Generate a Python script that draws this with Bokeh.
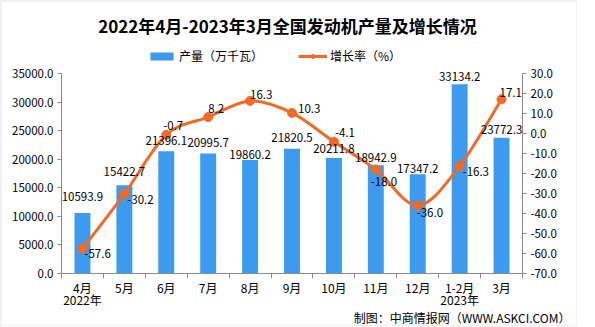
from bokeh.plotting import figure
from bokeh.models import (Range1d, LinearAxis, FixedTicker, NumeralTickFormatter, Label,
                          Legend, LegendItem, ColumnDataSource, BoxAnnotation)
from bokeh.embed import file_html
from bokeh.resources import INLINE
from bokeh.core.properties import value

# ---------------- data ----------------
months = ["4月", "5月", "6月", "7月", "8月", "9月", "10月", "11月", "12月", "1-2月", "3月"]
year_marks = {0: "2022年", 9: "2023年"}
output = [10593.9, 15422.7, 21396.1, 20995.7, 19860.2, 21820.5, 20211.8, 18942.9, 17347.2, 33134.2, 23772.3]
growth = [-57.6, -30.2, -0.7, 8.2, 16.3, 10.3, -4.1, -18.0, -36.0, -16.3, 17.1]
left_ticks = [0, 5000, 10000, 15000, 20000, 25000, 30000, 35000]
right_ticks = [-70, -60, -50, -40, -30, -20, -10, 0, 10, 20, 30]

# ---------------- style / layout (pixels) ----------------
W, H = 577, 326                        # canvas = frame; outer grey border drawn on its edge
AX_L, AX_R, AX_T, AX_B = 61, 522, 73, 273  # where the axes sit
BLUE = "#3D9BEF"
ORANGE = "#F26A24"
AXIS = "#8C8C8C"
FONT = "Noto Sans CJK SC"
# per-label pixel offsets (label placement, as in the reference)
b_dy = [-16, -14, -11, -11, -6, -11, -10, -8, -6, -8, -8]
g_dx = [2, 3, -3, 0, 0, 6, 1, -5, -1, 3, -2]
g_dy = [5, 6, -9, -9, -6, -4, -9, 12, 7, 5, -7]

n = len(months)
idx = list(range(n))
xlo, xhi = -0.5, n - 0.5
lo, hi = left_ticks[0], left_ticks[-1]
glo, ghi = right_ticks[0], right_ticks[-1]


def span(a, b, pa, pb, p0, p1):
    """range end-points so that a sits at pixel pa and b at pixel pb on a p0..p1 frame"""
    k = (b - a) / (pb - pa)
    return a - (pa - p0) * k, b + (p1 - pb) * k


xr = span(xlo, xhi, AX_L, AX_R, 0, W)
yr = span(lo, hi, H - AX_B, H - AX_T, 0, H)
gr = span(glo, ghi, H - AX_B, H - AX_T, 0, H)

p = figure(width=W, height=H, x_range=Range1d(*xr), y_range=Range1d(*yr),
           output_backend="svg", toolbar_location=None,
           min_border_left=0, min_border_right=0, min_border_top=0, min_border_bottom=0)
p.outline_line_color = None
p.xgrid.visible = False
p.ygrid.visible = False
p.background_fill_color = "white"
p.border_fill_color = "white"
p.extra_y_ranges = {"g": Range1d(*gr)}

# left axis
ya = p.yaxis[0]
ya.fixed_location = xlo
ya.bounds = (lo, hi)
ya.ticker = FixedTicker(ticks=left_ticks)
ya.formatter = NumeralTickFormatter(format="0.0")
ya.axis_line_color = AXIS
ya.major_tick_line_color = AXIS
ya.major_tick_out = 4
ya.major_tick_in = 0
ya.minor_tick_line_color = None
ya.major_label_standoff = 4
ya.major_label_text_font = FONT
ya.major_label_text_font_size = "11.5px"
ya.major_label_text_color = "#000000"

# right axis
ra = LinearAxis(y_range_name="g", ticker=FixedTicker(ticks=right_ticks),
                formatter=NumeralTickFormatter(format="0.0"), bounds=(glo, ghi), fixed_location=xhi)
ra.axis_line_color = AXIS
ra.major_tick_line_color = AXIS
ra.major_tick_out = 4
ra.major_tick_in = 0
ra.minor_tick_line_color = None
ra.major_label_standoff = 4
ra.major_label_text_font = FONT
ra.major_label_text_font_size = "11.5px"
ra.major_label_text_color = "#000000"
p.add_layout(ra, "right")

# x axis
xa = p.xaxis[0]
xa.fixed_location = lo
xa.bounds = (xlo, xhi)
xa.ticker = FixedTicker(ticks=idx, minor_ticks=[i - 0.5 for i in range(n + 1)])
xa.major_label_overrides = {i: months[i] + ("\n" + year_marks[i] if i in year_marks else "") for i in idx}
xa.axis_line_color = AXIS
xa.major_tick_line_color = None
xa.major_tick_out = 0
xa.major_tick_in = 0
xa.minor_tick_line_color = AXIS
xa.minor_tick_out = 5
xa.minor_tick_in = 0
xa.major_label_standoff = 0
xa.major_label_text_font = FONT
xa.major_label_text_font_size = "12px"
xa.major_label_text_line_height = 0.75
xa.major_label_text_color = "#000000"

# bars
bars = p.vbar(x=idx, top=output, width=0.38, fill_color=BLUE, line_color=None)

# smooth growth line (bezier segments built from the data points)
x0, y0, x1, y1, cx0, cy0, cx1, cy1 = [], [], [], [], [], [], [], []
for i in range(n - 1):
    pi = i - 1 if i > 0 else i
    ni = i + 2 if i + 2 < n else i + 1
    x0.append(i); y0.append(growth[i])
    x1.append(i + 1); y1.append(growth[i + 1])
    cx0.append(i + (i + 1 - pi) / 6); cy0.append(growth[i] + (growth[i + 1] - growth[pi]) / 6)
    cx1.append(i + 1 - (ni - i) / 6); cy1.append(growth[i + 1] - (growth[ni] - growth[i]) / 6)
curve = p.bezier(x0=x0, y0=y0, x1=x1, y1=y1, cx0=cx0, cy0=cy0, cx1=cx1, cy1=cy1,
                 y_range_name="g", line_color=ORANGE, line_width=3)
pts = p.scatter(x=idx, y=growth, y_range_name="g", size=9, fill_color=ORANGE, line_color=ORANGE)

# value labels
bsrc = ColumnDataSource(dict(x=idx, y=output, t=[f"{v:.1f}" for v in output], dy=b_dy))
p.text(x="x", y="y", text="t", source=bsrc, text_align="center", text_baseline="middle",
       y_offset="dy", text_font=value(FONT), text_font_size="11.5px", text_color="#000000")
gsrc = ColumnDataSource(dict(x=idx, y=growth, t=[f"{v:.1f}" for v in growth], dx=g_dx, dy=g_dy))
p.text(x="x", y="y", text="t", source=gsrc, y_range_name="g", text_align="left",
       text_baseline="middle", x_offset="dx", y_offset="dy",
       text_font=value(FONT), text_font_size="11.5px", text_color="#000000")

# legend
legend = Legend(items=[LegendItem(label="产量（万千瓦）", renderers=[bars]),
                       LegendItem(label="增长率（%）", renderers=[curve, pts])],
                orientation="horizontal", location=(147, H - 64),
                glyph_width=29, glyph_height=10, label_standoff=3, spacing=35,
                padding=0, margin=0, border_line_color=None, background_fill_alpha=0,
                label_text_font=FONT, label_text_font_size="12px", label_text_color="#000000")
p.add_layout(legend, "center")

# title
p.add_layout(Label(x=287, y=H - 25, x_units="screen", y_units="screen",
                   text="2022年4月-2023年3月全国发动机产量及增长情况", text_align="center",
                   text_baseline="middle", text_font=FONT, text_font_size="17px",
                   text_font_style="bold", text_color="#000000"))

# source note
p.add_layout(Label(x=570, y=H - 317, x_units="screen", y_units="screen",
                   text="制图：中商情报网（WWW.ASKCI.COM）", text_align="right",
                   text_baseline="middle", text_font=FONT, text_font_size="12px",
                   text_color="#000000"))

# outer grey border (whole frame)
p.add_layout(BoxAnnotation(fill_alpha=0, line_color="#A0A0A0", line_width=2))

open("out.html", "w").write(file_html(p, INLINE))
